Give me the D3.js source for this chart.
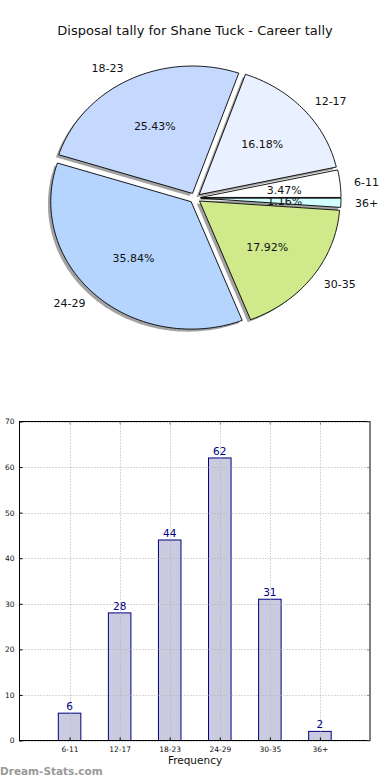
<!DOCTYPE html>
<html><head><meta charset="utf-8">
<script src="https://cdn.jsdelivr.net/npm/d3@7"></script>
<style>body{margin:0;background:#fff}svg{display:block}text{font-family:"DejaVu Sans",sans-serif}</style>
</head><body><svg id="c" width="390" height="780"></svg>
<script>
const categories = ["6-11","12-17","18-23","24-29","30-35","36+"];
const values = [6,28,44,62,31,2];
const pieColors = ["#ffffff","#e9f0ff","#c5d9ff","#b5d5ff","#cfe98b","#d2ffff"];
const yTicks = [0,10,20,30,40,50,60,70];
const title = "Disposal tally for Shane Tuck - Career tally";

const svg = d3.select("#c");
svg.append("text").attr("x",195).attr("y",35).attr("text-anchor","middle").attr("font-size",13).attr("fill","#111").text(title);

// Pie (matplotlib-like, counterclockwise from east, elliptical)
const cx=195, cy=198, Rx=140.4, Ry=127.4, ex=0.04;
const total = d3.sum(values);
const angle = d3.scaleLinear().domain([0,total]).range([0,2*Math.PI]);
let acc=0;
const slices = values.map((v,i)=>{const a0=angle(acc); acc+=v; const a1=angle(acc); return {i,v,a0,a1,am:(a0+a1)/2};});
function wedgePath(s,dx,dy){
  const ox = cx + Rx*ex*Math.cos(s.am) + dx, oy = cy - Ry*ex*Math.sin(s.am) + dy;
  const n = Math.max(4, Math.ceil((s.a1-s.a0)/0.02));
  const pts=[[ox,oy]];
  for(let k=0;k<=n;k++){const a=s.a0+(s.a1-s.a0)*k/n; pts.push([ox+Rx*Math.cos(a), oy-Ry*Math.sin(a)]);}
  return d3.line()(pts)+"Z";
}
const pg = svg.append("g");
pg.selectAll("path.sh").data(slices).join("path").attr("class","sh")
  .attr("d",s=>wedgePath(s,-0.02*Rx,0.02*Ry)).attr("fill","#555").attr("opacity",0.55);
pg.selectAll("path.w").data(slices).join("path").attr("class","w")
  .attr("d",s=>wedgePath(s,0,0)).attr("fill",s=>pieColors[s.i]).attr("stroke","#000").attr("stroke-width",0.9);
pg.selectAll("text.lab").data(slices).join("text").attr("class","lab")
  .attr("x",s=>cx+Rx*(1.1+ex)*Math.cos(s.am)).attr("y",s=>cy-Ry*(1.1+ex)*Math.sin(s.am))
  .attr("text-anchor",s=>Math.cos(s.am)>0?"start":"end").attr("dominant-baseline","central")
  .attr("font-size",11).attr("fill","#111").text(s=>categories[s.i]);
pg.selectAll("text.pct").data(slices).join("text").attr("class","pct")
  .attr("x",s=>cx+Rx*(0.6+ex)*Math.cos(s.am)).attr("y",s=>cy-Ry*(0.6+ex)*Math.sin(s.am)+1)
  .attr("text-anchor","middle").attr("dominant-baseline","central")
  .attr("font-size",11).attr("fill","#111").text(s=>(s.v/total*100).toFixed(2)+"%");

// Bar chart
const L=19.5, R=370, T=421.5, B=740.5;
const x = d3.scaleLinear().domain([-1,6]).range([L,R]);
const y = d3.scaleLinear().domain([0,70]).range([B,T]);
const bg = svg.append("g");
const bw = x(0.45)-x(0);
bg.selectAll("rect").data(values).join("rect")
  .attr("x",(d,i)=>x(i)-bw/2).attr("y",d=>y(d)).attr("width",bw).attr("height",d=>B-y(d))
  .attr("fill","#cbcbe0").attr("stroke","#000080").attr("stroke-width",1);
// grid
bg.selectAll("line.gy").data(yTicks).join("line").attr("class","gy")
  .attr("x1",L).attr("x2",R).attr("y1",d=>Math.round(y(d))+0.5).attr("y2",d=>Math.round(y(d))+0.5)
  .attr("stroke","#b0b0b0").attr("stroke-dasharray","1,2");
bg.selectAll("line.gx").data(categories).join("line").attr("class","gx")
  .attr("x1",(d,i)=>Math.round(x(i))+0.5).attr("x2",(d,i)=>Math.round(x(i))+0.5).attr("y1",T).attr("y2",B)
  .attr("stroke","#b0b0b0").attr("stroke-dasharray","1,2");
bg.append("rect").attr("x",L).attr("y",T).attr("width",R-L).attr("height",B-T).attr("fill","none").attr("stroke","#000").attr("stroke-width",1);
// axes
const ya = d3.axisLeft(y).tickValues(yTicks).tickSize(-3).tickPadding(5).tickFormat(d3.format("d"));
const yg = bg.append("g").attr("transform",`translate(${L},0)`).call(ya);
yg.select(".domain").remove();
yg.selectAll("text").attr("font-size",7.5).attr("fill","#111").attr("font-family","DejaVu Sans");
const yr = bg.append("g").attr("transform",`translate(${R},0)`).call(d3.axisRight(y).tickValues(yTicks).tickSize(-3).tickFormat(""));
yr.select(".domain").remove(); yr.selectAll("line").attr("stroke","#888");
const xa = d3.axisBottom(x).tickValues(d3.range(categories.length)).tickFormat(i=>categories[i]).tickSize(-3).tickPadding(6);
const xg = bg.append("g").attr("transform",`translate(0,${B})`).call(xa);
xg.select(".domain").remove();
xg.selectAll("text").attr("font-size",7.5).attr("fill","#111").attr("font-family","DejaVu Sans");
const xt = bg.append("g").attr("transform",`translate(0,${T})`).call(d3.axisTop(x).tickValues(d3.range(categories.length)).tickSize(-3).tickFormat(""));
xt.select(".domain").remove(); xt.selectAll("line").attr("stroke","#888");
bg.selectAll("text.val").data(values).join("text").attr("class","val")
  .attr("x",(d,i)=>x(i)).attr("y",d=>y(d)-3).attr("text-anchor","middle")
  .attr("font-size",10.5).attr("fill","#000080").text(d=>d);
svg.append("text").attr("x",195).attr("y",764).attr("text-anchor","middle").attr("font-size",10.5).attr("fill","#111").text("Frequency");
svg.append("text").attr("x",0).attr("y",775).attr("font-size",10.5).attr("font-weight","bold").attr("fill","#999").text("Dream-Stats.com");
</script></body></html>
